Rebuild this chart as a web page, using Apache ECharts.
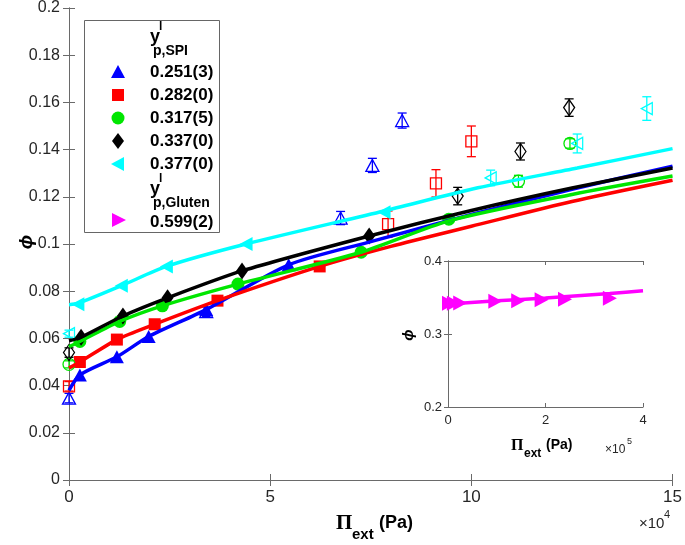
<!DOCTYPE html>
<html><head><meta charset="utf-8">
<script src="https://cdn.jsdelivr.net/npm/echarts@6/dist/echarts.min.js"></script>
<style>html,body{margin:0;padding:0;background:#fff}#c{width:685px;height:545px}</style>
</head><body><div id="c"></div>
<script>
// ---- main plot data (x in units of 1e4 Pa) ----
const xTicks = [0, 5, 10, 15];
const yTicks = [0, 0.02, 0.04, 0.06, 0.08, 0.1, 0.12, 0.14, 0.16, 0.18, 0.2];

// fitted / model curves
const blueCurveX  = [0, 0.27, 1.19, 1.98, 3.41, 5.46, 7.5, 10, 12.5, 15];
const blueCurveY  = [0.038, 0.0445, 0.0522, 0.0608, 0.0722, 0.0912, 0.1010, 0.1125, 0.1232, 0.1330];
const redCurveX   = [0, 0.27, 1.19, 2.13, 3.69, 6.23, 8, 10, 12.5, 15];
const redCurveY   = [0.0475, 0.0500, 0.0595, 0.0660, 0.0760, 0.0905, 0.0990, 0.1075, 0.1180, 0.1270];
const greenCurveX = [0, 0.27, 1.26, 2.32, 4.2, 7.26, 9.44, 12.5, 15];
const greenCurveY = [0.0565, 0.0587, 0.0672, 0.0738, 0.0830, 0.0965, 0.1098, 0.1210, 0.1288];
const blackCurveX = [0, 0.3, 1.34, 2.45, 4.3, 7.46, 10, 12.5, 15];
const blackCurveY = [0.0590, 0.0605, 0.0695, 0.0772, 0.0886, 0.1034, 0.1142, 0.1237, 0.1322];
const cyanCurveX  = [0, 0.22, 1.3, 2.42, 4.4, 7.83, 10.16, 12.63, 15];
const cyanCurveY  = [0.0743, 0.0748, 0.0823, 0.0905, 0.1000, 0.1140, 0.1238, 0.1322, 0.1404];

// filled (model) markers
const blueSimX  = [0.27, 1.19, 1.98, 3.41, 5.46];
const blueSimY  = [0.0445, 0.0522, 0.0608, 0.0722, 0.0912];
const redSimX   = [0.27, 1.19, 2.13, 3.69, 6.23];
const redSimY   = [0.0500, 0.0595, 0.0660, 0.0760, 0.0905];
const greenSimX = [0.27, 1.26, 2.32, 4.2, 7.26, 9.44];
const greenSimY = [0.0587, 0.0672, 0.0738, 0.0830, 0.0965, 0.1105];
const blackSimX = [0.3, 1.34, 2.45, 4.3, 7.46];
const blackSimY = [0.0605, 0.0695, 0.0772, 0.0886, 0.1034];
const cyanSimX  = [0.22, 1.3, 2.42, 4.4, 7.83];
const cyanSimY  = [0.0745, 0.0823, 0.0905, 0.1000, 0.1135];

// open (experimental) markers with error bars
const blueExpX  = [0, 3.41, 6.75, 7.54, 8.28];
const blueExpY  = [0.0347, 0.0713, 0.1110, 0.1333, 0.1523];
const blueExpE  = [0.002, 0.002, 0.0028, 0.003, 0.0032];
const redExpX   = [0, 7.93, 9.12, 10.0];
const redExpY   = [0.0397, 0.1084, 0.1257, 0.1435];
const redExpE   = [0.002, 0.0056, 0.0058, 0.0065];
const greenExpX = [0, 11.17, 12.45];
const greenExpY = [0.0490, 0.1266, 0.1426];
const greenExpE = [0.0015, 0.0025, 0.002];
const blackExpX = [0, 9.66, 11.22, 12.43];
const blackExpY = [0.0540, 0.1203, 0.1392, 0.1578];
const blackExpE = [0.002, 0.0037, 0.0036, 0.0037];
const cyanExpX  = [0, 10.48, 12.63, 14.36];
const cyanExpY  = [0.0620, 0.1280, 0.1426, 0.1574];
const cyanExpE  = [0.0015, 0.0033, 0.004, 0.005];

// ---- inset data (x in units of 1e5 Pa) ----
const magCurveX = [0, 0.25, 1, 2, 3.32, 4];
const magCurveY = [0.3415, 0.3420, 0.3455, 0.3493, 0.3555, 0.3592];
const magSimX   = [0.02, 0.12, 0.25, 0.97, 1.44, 1.92, 2.4, 3.32];
const magSimY   = [0.3420, 0.3420, 0.3425, 0.3448, 0.3455, 0.3468, 0.3475, 0.3490];

const legendLabels = ['0.251(3)', '0.282(0)', '0.317(5)', '0.337(0)', '0.377(0)', '0.599(2)'];

const C = {blue:'#0000ff', red:'#ff0000', green:'#00e600', black:'#000000', cyan:'#00ffff', mag:'#ff00ff'};
const FONT = 'Liberation Sans, Arial, sans-serif';
const AX = '#6a6a6a';

const pairs = (xs, ys) => xs.map((x, i) => [x, ys[i]]);
const triples = (xs, ys, es) => xs.map((x, i) => [x, ys[i], es[i]]);

function curve(xs, ys, color, xi, yi) {
  return {type:'line', xAxisIndex:xi||0, yAxisIndex:yi||0, data:pairs(xs, ys), symbol:'none',
    smooth:0.25, lineStyle:{color, width:3.5}, silent:true, animation:false};
}
function sim(xs, ys, color, symbol, size, rot, xi, yi) {
  return {type:'scatter', xAxisIndex:xi||0, yAxisIndex:yi||0, data:pairs(xs, ys), symbol, symbolSize:size,
    symbolRotate:rot||0, itemStyle:{color, opacity:1}, silent:true, animation:false};
}
function expMarks(xs, ys, color, symbol, size, rot) {
  return {type:'scatter', data:pairs(xs, ys), symbol, symbolSize:size, symbolRotate:rot||0,
    itemStyle:{color:'rgba(0,0,0,0)', borderColor:color, borderWidth:1.3, opacity:1}, silent:true, animation:false};
}
function errBars(xs, ys, es, color) {
  return {type:'custom', data:triples(xs, ys, es), silent:true, animation:false,
    renderItem(params, api) {
      const x = api.value(0), y = api.value(1), e = api.value(2);
      const t = api.coord([x, y + e]), b = api.coord([x, y - e]);
      const w = 4.5;
      const st = {stroke:color, lineWidth:1.3};
      return {type:'group', children:[
        {type:'line', shape:{x1:t[0], y1:t[1], x2:b[0], y2:b[1]}, style:st},
        {type:'line', shape:{x1:t[0]-w, y1:t[1], x2:t[0]+w, y2:t[1]}, style:st},
        {type:'line', shape:{x1:b[0]-w, y1:b[1], x2:b[0]+w, y2:b[1]}, style:st}
      ]};
    }};
}

const tickStyle = {show:true, inside:true, length:6, lineStyle:{color:AX, width:1}};
const lineStyle = {show:true, lineStyle:{color:AX, width:1}};
const fmt2 = v => String(Math.round(v * 100) / 100);

const option = {
  backgroundColor:'#fff',
  animation:false,
  grid:[
    {left:69, top:6, width:607, height:474},
    {left:448, top:261, width:195, height:146, show:true, backgroundColor:'#fff', borderWidth:0, z:5}
  ],
  xAxis:[
    {gridIndex:0, type:'value', min:xTicks[0], max:xTicks[xTicks.length-1], interval:5, position:'bottom',
     axisLine:lineStyle, axisTick:tickStyle, splitLine:{show:false},
     axisLabel:{fontSize:17, color:'#262626', fontFamily:FONT, margin:9}},
    {gridIndex:0, type:'value', min:0, max:15, interval:5, position:'top',
     axisLine:lineStyle, axisTick:tickStyle, splitLine:{show:false}, axisLabel:{show:false}},
    {gridIndex:1, type:'value', min:0, max:4, interval:2, position:'bottom', z:6,
     axisLine:lineStyle, axisTick:{show:true, inside:true, length:4, lineStyle:{color:AX}}, splitLine:{show:false},
     axisLabel:{fontSize:13, color:'#262626', fontFamily:FONT, margin:7}},
    {gridIndex:1, type:'value', min:0, max:4, interval:2, position:'top', z:6,
     axisLine:lineStyle, axisTick:{show:true, inside:true, length:4, lineStyle:{color:AX}}, splitLine:{show:false}, axisLabel:{show:false}}
  ],
  yAxis:[
    {gridIndex:0, type:'value', min:yTicks[0], max:yTicks[yTicks.length-1], interval:0.02, position:'left',
     axisLine:lineStyle, axisTick:tickStyle, splitLine:{show:false},
     axisLabel:{fontSize:16, color:'#262626', fontFamily:FONT, margin:9, formatter:fmt2}},
    {gridIndex:0, type:'value', min:0, max:0.2, interval:0.02, position:'right',
     axisLine:lineStyle, axisTick:tickStyle, splitLine:{show:false}, axisLabel:{show:false}},
    {gridIndex:1, type:'value', min:0.2, max:0.4, interval:0.1, position:'left', z:6,
     axisLine:lineStyle, axisTick:{show:true, inside:true, length:4, lineStyle:{color:AX}}, splitLine:{show:false},
     axisLabel:{fontSize:13, color:'#262626', fontFamily:FONT, margin:6, formatter:v => v.toFixed(1)}},
    {gridIndex:1, type:'value', min:0.2, max:0.4, interval:0.1, position:'right', z:6,
     axisLine:lineStyle, axisTick:{show:true, inside:true, length:4, lineStyle:{color:AX}}, splitLine:{show:false}, axisLabel:{show:false}}
  ],
  series:[
    curve(blueCurveX, blueCurveY, C.blue),
    sim(blueSimX, blueSimY, C.blue, 'triangle', [14, 13]),
    errBars(blueExpX, blueExpY, blueExpE, C.blue),
    expMarks(blueExpX, blueExpY, C.blue, 'triangle', [13, 12]),

    curve(redCurveX, redCurveY, C.red),
    sim(redSimX, redSimY, C.red, 'rect', 12),
    errBars(redExpX, redExpY, redExpE, C.red),
    expMarks(redExpX, redExpY, C.red, 'rect', 11),

    curve(greenCurveX, greenCurveY, C.green),
    sim(greenSimX, greenSimY, C.green, 'circle', 13),
    errBars(greenExpX, greenExpY, greenExpE, C.green),
    expMarks(greenExpX, greenExpY, C.green, 'circle', 12),

    curve(blackCurveX, blackCurveY, C.black),
    sim(blackSimX, blackSimY, C.black, 'diamond', [12, 17]),
    errBars(blackExpX, blackExpY, blackExpE, C.black),
    expMarks(blackExpX, blackExpY, C.black, 'diamond', [11, 16]),

    curve(cyanCurveX, cyanCurveY, C.cyan),
    sim(cyanSimX, cyanSimY, C.cyan, 'triangle', [14, 13], 90),
    errBars(cyanExpX, cyanExpY, cyanExpE, C.cyan),
    expMarks(cyanExpX, cyanExpY, C.cyan, 'triangle', [12, 11], 90),

    Object.assign(curve(magCurveX, magCurveY, C.mag, 2, 2), {z:7, smooth:0.2}),
    Object.assign(sim(magSimX, magSimY, C.mag, 'triangle', [15, 14], -90, 2, 2), {z:7})
  ],
  graphic:[]
};

// ---------- legend box (drawn as graphics) ----------
const g = option.graphic;
const ZL = 20;
const bold = (txt, x, y, size) => ({type:'text', x, y, z:ZL + 1, silent:true,
  style:{text:txt, fill:'#000', font:'bold ' + size + 'px ' + FONT, textVerticalAlign:'middle'}});
g.push({type:'rect', z:ZL, shape:{x:84.5, y:20.5, width:135, height:212}, style:{fill:'#fff', stroke:'#666', lineWidth:1}, silent:true});
g.push(bold('y', 150, 37, 18));
g.push(bold('l', 159, 27, 12));
g.push(bold('p,SPI', 153, 51, 14));
const rowsY = [72, 95, 118, 141, 164];
const mx = 118;
legendLabels.slice(0, 5).forEach((t, i) => g.push(bold(t, 150, rowsY[i], 17)));
const shp = (o) => Object.assign({z:ZL + 1, silent:true}, o);
g.push(shp({type:'polygon', shape:{points:[[mx, rowsY[0]-7],[mx+7, rowsY[0]+6],[mx-7, rowsY[0]+6]]}, style:{fill:C.blue}}));
g.push(shp({type:'rect', shape:{x:mx-6, y:rowsY[1]-6, width:12, height:12}, style:{fill:C.red}}));
g.push(shp({type:'circle', shape:{cx:mx, cy:rowsY[2], r:6.5}, style:{fill:C.green}}));
g.push(shp({type:'polygon', shape:{points:[[mx, rowsY[3]-8],[mx+6, rowsY[3]],[mx, rowsY[3]+8],[mx-6, rowsY[3]]]}, style:{fill:C.black}}));
g.push(shp({type:'polygon', shape:{points:[[mx-7, rowsY[4]],[mx+6, rowsY[4]-7],[mx+6, rowsY[4]+7]]}, style:{fill:C.cyan}}));
g.push(bold('y', 150, 189, 18));
g.push(bold('l', 159, 179, 12));
g.push(bold('p,Gluten', 153, 203, 14));
g.push(bold(legendLabels[5], 150, 222, 17));
g.push(shp({type:'polygon', shape:{points:[[mx+8, 220],[mx-6, 213],[mx-6, 227]]}, style:{fill:C.mag}}));

// ---------- axis titles ----------
const txt = (o) => Object.assign({type:'text', z:ZL + 1, silent:true}, o);
g.push(txt({x:336, y:524, style:{text:'\u03A0', font:'bold 21px Liberation Serif, serif', fill:'#000', textVerticalAlign:'middle'}}));
g.push(txt({x:352, y:535, style:{text:'ext', font:'bold 15px ' + FONT, fill:'#000', textVerticalAlign:'middle'}}));
g.push(txt({x:379, y:523, style:{text:'(Pa)', font:'bold 18px ' + FONT, fill:'#000', textVerticalAlign:'middle'}}));
g.push(txt({x:639, y:524, style:{text:'\u00D710', font:'15px ' + FONT, fill:'#262626', textVerticalAlign:'middle'}}));
g.push(txt({x:664, y:515, style:{text:'4', font:'11px ' + FONT, fill:'#262626', textVerticalAlign:'middle'}}));
g.push(txt({x:27, y:242, rotation:Math.PI/2, style:{text:'\u03D5', font:'italic bold 19px ' + FONT, fill:'#000', textAlign:'center', textVerticalAlign:'middle'}}));
// inset titles
g.push(txt({x:511, y:446, style:{text:'\u03A0', font:'bold 16px Liberation Serif, serif', fill:'#000', textVerticalAlign:'middle'}}));
g.push(txt({x:524, y:454, style:{text:'ext', font:'bold 12px ' + FONT, fill:'#000', textVerticalAlign:'middle'}}));
g.push(txt({x:546, y:445, style:{text:'(Pa)', font:'bold 14px ' + FONT, fill:'#000', textVerticalAlign:'middle'}}));
g.push(txt({x:605, y:450, style:{text:'\u00D710', font:'12px ' + FONT, fill:'#262626', textVerticalAlign:'middle'}}));
g.push(txt({x:627, y:442, style:{text:'5', font:'9px ' + FONT, fill:'#262626', textVerticalAlign:'middle'}}));
g.push(txt({x:409, y:335, rotation:Math.PI/2, style:{text:'\u03D5', font:'italic bold 15px ' + FONT, fill:'#000', textAlign:'center', textVerticalAlign:'middle'}}));

const chart = echarts.init(document.getElementById('c'), null, {renderer:'canvas'});
chart.setOption(option);
</script></body></html>
